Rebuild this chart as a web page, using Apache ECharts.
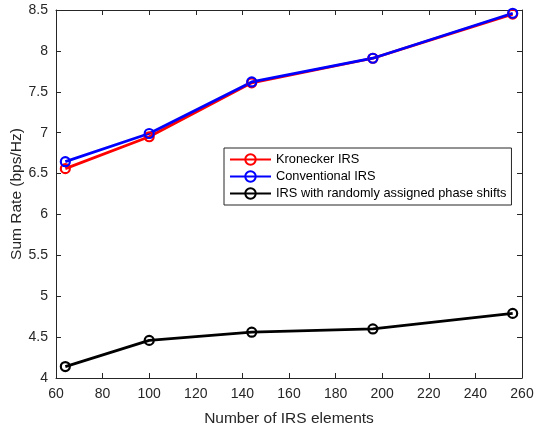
<!DOCTYPE html>
<html>
<head>
<meta charset="utf-8">
<script src="https://cdn.jsdelivr.net/npm/echarts@6/dist/echarts.min.js"></script>
<style>
html,body{margin:0;padding:0;background:#fff;}
#chart{width:536px;height:426px;}
</style>
</head>
<body>
<div id="chart"></div>
<script>
const xValues = [64, 100, 144, 196, 256];
const kroneckerIRS = [6.56, 6.95, 7.61, 7.91, 8.45];
const conventionalIRS = [6.645, 6.99, 7.62, 7.91, 8.46];
const randomIRS = [4.14, 4.46, 4.56, 4.60, 4.79];
const seriesNames = ['Kronecker IRS', 'Conventional IRS', 'IRS with randomly assigned phase shifts'];
const seriesColors = ['#ff0000', '#0000ff', '#000000'];
const xAxisName = 'Number of IRS elements';
const yAxisName = 'Sum Rate (bps/Hz)';

const allData = [kroneckerIRS, conventionalIRS, randomIRS];
const textColor = '#262626';
const font = 'Liberation Sans, Arial, sans-serif';

const chart = echarts.init(document.getElementById('chart'), null, {renderer: 'canvas'});

const tickCfg = {show: true, inside: true, length: 5, lineStyle: {color: textColor, width: 1}};
const lineCfg = {show: true, onZero: false, lineStyle: {color: textColor, width: 1}};

chart.setOption({
  animation: false,
  backgroundColor: '#ffffff',
  grid: {left: 56, top: 10, right: 14, bottom: 48, containLabel: false, outerBoundsMode: 'none'},
  legend: {
    orient: 'vertical',
    left: 224, top: 148,
    backgroundColor: '#ffffff',
    borderColor: '#262626', borderWidth: 1,
    padding: [5, 5, 5, 5],
    itemGap: 4,
    itemWidth: 41, itemHeight: 13,
    textStyle: {fontFamily: font, fontSize: 12.8, color: '#000'},
    data: seriesNames
  },
  xAxis: [{
    type: 'value', min: 60, max: 260, interval: 20,
    name: xAxisName, nameLocation: 'middle', nameGap: 33, nameMoveOverlap: false,
    nameTextStyle: {fontFamily: font, fontSize: 15.5, color: textColor},
    axisLine: lineCfg, axisTick: tickCfg,
    axisLabel: {fontFamily: font, fontSize: 14, color: textColor, margin: 9},
    splitLine: {show: false}
  }, {
    type: 'value', min: 60, max: 260, interval: 20, position: 'top',
    axisLine: lineCfg, axisTick: tickCfg, axisLabel: {show: false}, splitLine: {show: false}
  }],
  yAxis: [{
    type: 'value', min: 4, max: 8.5, interval: 0.5,
    name: yAxisName, nameLocation: 'middle', nameGap: 31, nameMoveOverlap: false,
    nameTextStyle: {fontFamily: font, fontSize: 15.5, color: textColor},
    axisLine: lineCfg, axisTick: tickCfg,
    axisLabel: {fontFamily: font, fontSize: 14, color: textColor, margin: 8},
    splitLine: {show: false}
  }, {
    type: 'value', min: 4, max: 8.5, interval: 0.5, position: 'right',
    axisLine: lineCfg, axisTick: tickCfg, axisLabel: {show: false}, splitLine: {show: false}
  }],
  series: allData.map((d, i) => ({
    name: seriesNames[i],
    type: 'line',
    data: xValues.map((x, j) => [x, d[j]]),
    symbol: 'circle',
    symbolSize: 9,
    showSymbol: true,
    itemStyle: {color: 'rgba(0,0,0,0)', borderColor: seriesColors[i], borderWidth: 2.2},
    lineStyle: {color: seriesColors[i], width: 2.8},
    emphasis: {disabled: true}
  }))
});
</script>
</body>
</html>
